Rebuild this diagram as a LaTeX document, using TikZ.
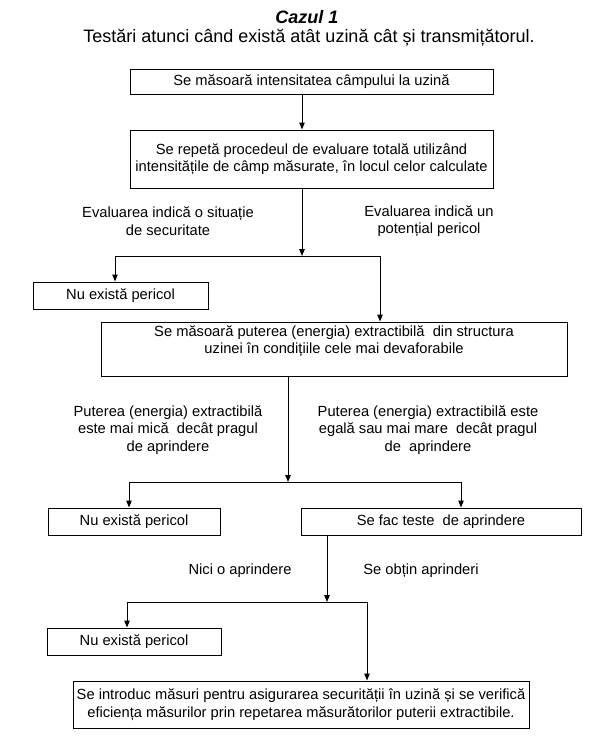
\documentclass[tikz,border=0pt]{standalone}
\usepackage{fontspec}
\setmainfont{Liberation Sans}
\usetikzlibrary{arrows.meta,positioning}

\begin{document}
\begin{tikzpicture}[x=1pt,y=-1pt,font=\fontsize{14.7}{17.5}\selectfont,
    box/.style={draw,line width=1pt,inner sep=0pt,align=center},
    lbl/.style={align=center,inner sep=0pt},
    link/.style={line width=1pt},
    arr/.style={link,-{Triangle[length=7pt,width=5.5pt]}}]
  \useasboundingbox (0,0) rectangle (614,750);
  % titles
  \node[font=\fontsize{18}{20}\selectfont\bfseries\itshape] (caz) at (307,17) {Cazul 1};
  \node[font=\fontsize{18}{20}\selectfont] (sub) at (309,38)
    {Testări atunci când există atât uzină cât și transmițătorul.};
  % boxes
  \node[box,minimum width=363pt,minimum height=25pt] (meas) at (311.5,81.5)
    {Se măsoară intensitatea câmpului la uzină};
  \node[box,minimum width=363pt,minimum height=58pt] (rep) at (311.5,159)
    {Se repetă procedeul de evaluare totală utilizând\\
     intensitățile de câmp măsurate, în locul celor calculate};
  \node[box,minimum width=175pt,minimum height=27pt] (nu1) at (120.5,295.5) {Nu există pericol};
  \node[box,minimum width=466pt,minimum height=54pt] (extr) at (334,349) {};
  \node[lbl] (extrtxt) at (334,341)
    {Se măsoară puterea (energia) extractibilă\ \ din structura\\
     uzinei în condițiile cele mai devaforabile};
  \node[box,minimum width=172pt,minimum height=27pt] (nu2) at (134,521.5) {Nu există pericol};
  \node[box,minimum width=280pt,minimum height=27pt] (tests) at (441,521.5) {Se fac teste\ \ de aprindere};
  \node[box,minimum width=174pt,minimum height=27pt] (nu3) at (134,641.5) {Nu există pericol};
  \node[box,minimum width=456pt,minimum height=47pt] (fin) at (301,704.5)
    {Se introduc măsuri pentru asigurarea securității în uzină și se verifică\\
     eficiența măsurilor prin repetarea măsurătorilor puterii extractibile.};
  % branch labels
  \node[lbl] (ev1) at (168,221) {Evaluarea indică o situație\\de securitate};
  \node[lbl] (ev2) at (429,221) {Evaluarea indică un\\potențial pericol};
  \node[lbl] (pt1) at (168,430)
    {Puterea (energia) extractibilă\\este mai mică\ \ decât pragul\\de aprindere};
  \node[lbl] (pt2) at (428,430)
    {Puterea (energia) extractibilă este\\egală sau mai mare\ \ decât pragul\\de\ \ aprindere};
  \node[lbl] (nici) at (240,571) {Nici o aprindere};
  \node[lbl] (obt) at (421,571) {Se obțin aprinderi};
  % junctions
  \coordinate (j1) at (302,256);
  \coordinate (j1l) at (115,256);
  \coordinate (j1r) at (380,256);
  \coordinate (j2) at (288,482);
  \coordinate (j2l) at (129,482);
  \coordinate (j2r) at (461,482);
  \coordinate (j3) at (327,602);
  \coordinate (j3l) at (127,602);
  \coordinate (j3r) at (367,602);
  % connectors
  \draw[arr] (meas.south -| j1) -- (rep.north -| j1);
  \draw[arr] (rep.south -| j1) -- (j1);
  \draw[link] (j1l) -- (j1r);
  \draw[arr] (j1l) -- (nu1.north -| j1l);
  \draw[arr] (j1r) -- (extr.north -| j1r);
  \draw[arr] (extr.south -| j2) -- (j2);
  \draw[link] (j2l) -- (j2r);
  \draw[arr] (j2l) -- (nu2.north -| j2l);
  \draw[arr] (j2r) -- (tests.north -| j2r);
  \draw[arr] (tests.south -| j3) -- (j3);
  \draw[link] (j3l) -- (j3r);
  \draw[arr] (j3l) -- (nu3.north -| j3l);
  \draw[arr] (j3r) -- (fin.north -| j3r);
\end{tikzpicture}
\end{document}
